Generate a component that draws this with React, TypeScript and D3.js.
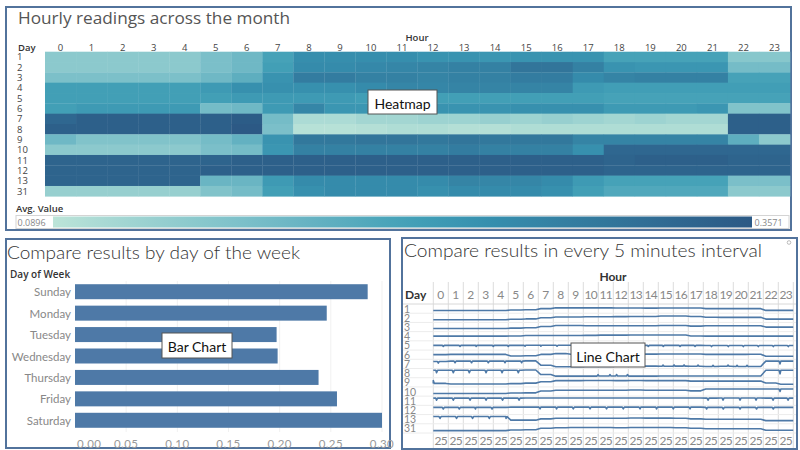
import React from 'react';
import * as d3 from 'd3';

// ---------- DATA ----------
const hours = [0, 1, 2, 3, 4, 5, 6, 7, 8, 9, 10, 11, 12, 13, 14, 15, 16, 17, 18, 19, 20, 21, 22, 23];
const days = ['1', '2', '3', '4', '5', '6', '7', '8', '9', '10', '11', '12', '13', '31'];

// Average value per day (rows) and hour (columns)
const hourlyAvg = [
  [0.143, 0.143, 0.143, 0.143, 0.143, 0.164, 0.178, 0.223, 0.258, 0.258, 0.258, 0.258, 0.250, 0.250, 0.245, 0.250, 0.250, 0.250, 0.223, 0.223, 0.223, 0.223, 0.148, 0.148],
  [0.143, 0.143, 0.143, 0.143, 0.143, 0.164, 0.178, 0.229, 0.263, 0.263, 0.269, 0.272, 0.277, 0.282, 0.282, 0.304, 0.304, 0.282, 0.250, 0.245, 0.245, 0.245, 0.170, 0.170],
  [0.162, 0.162, 0.162, 0.162, 0.162, 0.178, 0.197, 0.250, 0.290, 0.290, 0.282, 0.282, 0.277, 0.282, 0.282, 0.290, 0.290, 0.263, 0.277, 0.282, 0.282, 0.282, 0.223, 0.223],
  [0.229, 0.229, 0.229, 0.229, 0.229, 0.237, 0.255, 0.255, 0.255, 0.255, 0.263, 0.272, 0.272, 0.277, 0.277, 0.277, 0.277, 0.237, 0.231, 0.231, 0.231, 0.231, 0.231, 0.231],
  [0.229, 0.229, 0.229, 0.229, 0.229, 0.229, 0.237, 0.237, 0.237, 0.237, 0.231, 0.229, 0.229, 0.229, 0.229, 0.229, 0.229, 0.229, 0.223, 0.223, 0.223, 0.223, 0.223, 0.223],
  [0.229, 0.237, 0.237, 0.237, 0.237, 0.170, 0.178, 0.237, 0.272, 0.245, 0.245, 0.245, 0.250, 0.250, 0.250, 0.255, 0.255, 0.255, 0.237, 0.237, 0.237, 0.245, 0.156, 0.156],
  [0.330, 0.344, 0.344, 0.344, 0.344, 0.344, 0.352, 0.170, 0.106, 0.106, 0.116, 0.116, 0.122, 0.122, 0.130, 0.122, 0.130, 0.122, 0.116, 0.122, 0.116, 0.116, 0.344, 0.344],
  [0.344, 0.344, 0.344, 0.344, 0.344, 0.344, 0.357, 0.164, 0.095, 0.095, 0.098, 0.103, 0.103, 0.098, 0.098, 0.103, 0.103, 0.103, 0.103, 0.103, 0.103, 0.103, 0.344, 0.344],
  [0.178, 0.156, 0.156, 0.156, 0.156, 0.170, 0.191, 0.250, 0.298, 0.298, 0.304, 0.304, 0.298, 0.304, 0.298, 0.298, 0.298, 0.277, 0.277, 0.277, 0.277, 0.277, 0.197, 0.143],
  [0.143, 0.143, 0.143, 0.143, 0.143, 0.164, 0.170, 0.245, 0.282, 0.282, 0.282, 0.282, 0.282, 0.290, 0.282, 0.282, 0.282, 0.255, 0.330, 0.330, 0.330, 0.330, 0.330, 0.330],
  [0.336, 0.336, 0.336, 0.336, 0.336, 0.336, 0.344, 0.344, 0.344, 0.344, 0.344, 0.344, 0.344, 0.344, 0.344, 0.344, 0.344, 0.344, 0.336, 0.344, 0.344, 0.344, 0.336, 0.336],
  [0.336, 0.336, 0.336, 0.336, 0.336, 0.344, 0.344, 0.344, 0.344, 0.344, 0.344, 0.344, 0.344, 0.344, 0.344, 0.344, 0.344, 0.344, 0.336, 0.336, 0.336, 0.336, 0.336, 0.336],
  [0.336, 0.336, 0.336, 0.336, 0.336, 0.183, 0.183, 0.237, 0.263, 0.263, 0.263, 0.263, 0.263, 0.277, 0.272, 0.272, 0.263, 0.237, 0.223, 0.223, 0.223, 0.223, 0.164, 0.164],
  [0.130, 0.130, 0.130, 0.130, 0.130, 0.156, 0.170, 0.229, 0.255, 0.263, 0.263, 0.263, 0.255, 0.263, 0.263, 0.263, 0.255, 0.229, 0.210, 0.210, 0.210, 0.210, 0.143, 0.143],
];

const legendMin = 0.0896;
const legendMax = 0.3571;

const weekDays = ['Sunday', 'Monday', 'Tuesday', 'Wednesday', 'Thursday', 'Friday', 'Saturday'];
const weekValues = [0.286, 0.246, 0.197, 0.198, 0.238, 0.256, 0.300];
const barTicks = [0, 0.05, 0.1, 0.15, 0.2, 0.25, 0.3];

// Short spikes seen in the 5-minute line chart: day, change in value, minute-of-day
const spikeEvents = [
  { day: '5', delta: -0.045, minutes: [40, 107, 171, 240, 300, 367, 430, 495, 560, 625, 690, 755, 800, 860, 920, 987, 1047, 1113, 1180, 1240, 1300, 1360, 1420] },
  { day: '7', delta: -0.07, minutes: [20, 87, 153, 220, 287, 353] },
  { day: '7', delta: 0.05, minutes: [919, 963, 1003, 1059, 1119, 1179, 1215, 1255] },
  { day: '7', delta: -0.12, minutes: [1387] },
  { day: '8', delta: -0.1, minutes: [13, 80, 144, 211, 275, 340] },
  { day: '8', delta: 0.06, minutes: [659, 707, 733, 777] },
  { day: '8', delta: -0.15, minutes: [1387] },
  { day: '9', delta: 0.12, minutes: [0] },
  { day: '10', delta: -0.1, minutes: [1387] },
  { day: '11', delta: -0.09, minutes: [13, 80, 147, 211, 277, 343, 1099, 1159, 1227, 1291, 1359, 1419] },
  { day: '12', delta: -0.07, minutes: [40, 104, 169, 235, 427, 493, 560, 627, 693, 760, 827, 893, 960, 1027, 1093, 1160, 1227, 1293, 1360] },
  { day: '13', delta: -0.08, minutes: [27, 93, 157, 224, 291] },
];

const blueTeal = ['#bce4d8', '#aedcd5', '#a1d5d2', '#95cecf', '#89c8cc', '#7ec1ca', '#72bac6', '#66b2c2', '#59acbe', '#4ba5ba', '#419eb6', '#3b96b2', '#358ead', '#3586a7', '#347ea1', '#32779b', '#316f96', '#2f6790', '#2d608a', '#2c5985'];

// ---------- STYLE ----------
const BORDER = '#52739c';
const BAR = '#4e79a7';
const F_TAB = "'Open Sans', 'DejaVu Sans', sans-serif";
const F_LBL = "Lato, 'Open Sans', sans-serif";

function LabelBox({ x, y, w, h, text }: { x: number; y: number; w: number; h: number; text: string }) {
  return (
    <g>
      <rect x={x} y={y} width={w} height={h} fill="#fff" stroke="#555" strokeWidth={1} />
      <text x={x + w / 2} y={y + h / 2 + 1} textAnchor="middle" dominantBaseline="central" fontFamily={F_LBL} fontSize={14} fill="#111">{text}</text>
    </g>
  );
}

export default function App() {
  // ----- Heatmap -----
  const hx = d3.scaleBand<number>().domain(hours).range([45, 790]);
  const hy = d3.scaleBand<string>().domain(days).range([51.7, 196.3]);
  const color = d3.scaleSequential(d3.interpolateRgbBasis(blueTeal)).domain([legendMin, legendMax]);

  // ----- Bar chart -----
  const bx = d3.scaleLinear().domain([0, 0.3]).range([75, 382]);
  const by = d3.scaleBand<string>().domain(weekDays).range([281, 431]).paddingInner(0.3).paddingOuter(0.15);

  // ----- Line chart -----
  const lx = d3.scaleBand<number>().domain(hours).range([433.3, 793.3]);
  const ly = d3.scaleBand<string>().domain(days).range([304, 433]);
  const lv = d3.scaleLinear().domain([0.05, 0.4]).range([ly.bandwidth() - 0.5, 0.5]);
  const minuteX = (t: number) => {
    const tt = Math.max(0, Math.min(1439.9, t));
    const h = Math.floor(tt / 60);
    return (lx(h) as number) + ((tt - h * 60) / 60) * lx.bandwidth();
  };

  const linePaths = days.map((day, i) => {
    const vals = hourlyAvg[i];
    const base = (t: number) => vals[Math.max(0, Math.min(23, Math.floor(Math.max(0, Math.min(1439, t)) / 60)))];
    const pts: [number, number][] = [];
    hours.forEach((h) => {
      pts.push([h * 60 + 10, vals[h]]);
      pts.push([h * 60 + 50, vals[h]]);
    });
    spikeEvents.filter((e) => e.day === day).forEach((e) => {
      e.minutes.forEach((m) => {
        pts.push([Math.max(0, m - 4), base(m - 4)]);
        pts.push([m, base(m) + e.delta]);
        pts.push([Math.min(1439, m + 4), base(m + 4)]);
      });
    });
    pts.sort((a, b) => a[0] - b[0]);
    if (pts[0][0] > 0) pts.unshift([0, vals[0]]);
    pts.push([1439.9, vals[23]]);
    const y0 = ly(day) as number;
    const gen = d3.line<[number, number]>().x((p) => minuteX(p[0])).y((p) => y0 + lv(p[1]));
    return gen(pts) as string;
  });

  return (
    <svg width={800} height={450} style={{ position: 'absolute', left: 0, top: 0, background: '#fff' }}>
      <defs>
        <linearGradient id="legendGrad" x1="0" x2="1" y1="0" y2="0">
          {blueTeal.map((c, i) => (
            <stop key={i} offset={i / (blueTeal.length - 1)} stopColor={c} />
          ))}
        </linearGradient>
      </defs>

      {/* ================= HEATMAP PANEL ================= */}
      <rect x={6} y={7} width={785} height={223} fill="none" stroke={BORDER} strokeWidth={2} />
      <text x={18} y={23.5} fontFamily={F_TAB} fontSize={16} fill="#555" textLength={272} lengthAdjust="spacingAndGlyphs">Hourly readings across the month</text>
      <text x={417} y={37} textAnchor="middle" dominantBaseline="central" fontFamily={F_TAB} fontSize={9.5} fontWeight={600} fill="#333">Hour</text>
      <text x={18} y={47} dominantBaseline="central" fontFamily={F_TAB} fontSize={9.5} fontWeight={600} fill="#333">Day</text>
      {hours.map((h) => (
        <text key={h} x={(hx(h) as number) + hx.bandwidth() / 2} y={47} textAnchor="middle" dominantBaseline="central" fontFamily={F_TAB} fontSize={9.5} fill="#444">{h}</text>
      ))}
      {days.map((d) => (
        <text key={d} x={17} y={(hy(d) as number) + hy.bandwidth() / 2} dominantBaseline="central" fontFamily={F_TAB} fontSize={9.5} fill="#444">{d}</text>
      ))}
      {days.map((d, i) =>
        hours.map((h) => (
          <rect key={d + '-' + h} x={hx(h)} y={hy(d)} width={hx.bandwidth() + 0.3} height={hy.bandwidth() + 0.3} fill={color(hourlyAvg[i][h])} />
        ))
      )}
      <text x={16} y={208} dominantBaseline="central" fontFamily={F_TAB} fontSize={9.5} fontWeight={600} fill="#333">Avg. Value</text>
      <rect x={16} y={215.5} width={773} height={13} fill="#fff" stroke="#d4d4d4" strokeWidth={1} />
      <rect x={53} y={216.5} width={699} height={11} fill="url(#legendGrad)" />
      <text x={17.5} y={222.5} dominantBaseline="central" fontFamily={F_TAB} fontSize={9} fill="#888">{legendMin.toFixed(4)}</text>
      <text x={754.5} y={222.5} dominantBaseline="central" fontFamily={F_TAB} fontSize={9} fill="#888">{legendMax.toFixed(4)}</text>
      <LabelBox x={368} y={90} w={69} h={24} text="Heatmap" />

      {/* ================= BAR CHART PANEL ================= */}
      <rect x={6} y={239} width={384} height={209} fill="none" stroke={BORDER} strokeWidth={2} />
      <text x={7} y={258.5} fontFamily={F_LBL} fontSize={18.5} fontWeight={300} fill="#333" textLength={293} lengthAdjust="spacingAndGlyphs">Compare results by day of the week</text>
      <text x={10} y={274} dominantBaseline="central" fontFamily={F_TAB} fontSize={10} fontWeight={600} fill="#333">Day of Week</text>
      {barTicks.slice(1).map((t) => (
        <line key={t} x1={bx(t)} x2={bx(t)} y1={281} y2={432} stroke="#f1f1f1" strokeWidth={1} />
      ))}
      {weekDays.map((d, i) => (
        <g key={d}>
          <rect x={bx(0)} y={by(d)} width={bx(weekValues[i]) - bx(0)} height={by.bandwidth()} fill={BAR} />
          <text x={71} y={(by(d) as number) + by.bandwidth() / 2} textAnchor="end" dominantBaseline="central" fontFamily={F_LBL} fontSize={11.5} fill="#888">{d}</text>
        </g>
      ))}
      {barTicks.map((t, i) => (
        <text key={t} x={i === 0 ? bx(t) + 2 : bx(t)} y={443.5} textAnchor={i === 0 ? 'start' : 'middle'} dominantBaseline="central" fontFamily={F_LBL} fontSize={11.5} fill="#999" letterSpacing={0.4}>{t.toFixed(2)}</text>
      ))}
      <LabelBox x={162} y={333} w={70} h={25} text="Bar Chart" />

      {/* ================= LINE CHART PANEL ================= */}
      <rect x={402} y={238} width={395} height={211} fill="none" stroke={BORDER} strokeWidth={2} />
      <text x={404} y={257} fontFamily={F_LBL} fontSize={18.5} fontWeight={300} fill="#333" textLength={358} lengthAdjust="spacingAndGlyphs">Compare results in every 5 minutes interval</text>
      <circle cx={789} cy={242.5} r={1.8} fill="none" stroke="#aaa" strokeWidth={0.8} />
      <text x={613} y={276} textAnchor="middle" dominantBaseline="central" fontFamily={F_LBL} fontSize={12} fontWeight={700} fill="#333">Hour</text>
      <text x={405} y={294} dominantBaseline="central" fontFamily={F_LBL} fontSize={12} fontWeight={700} fill="#333">Day</text>
      {d3.range(hours.length + 1).map((k) => {
        const x = 433.3 + k * lx.step();
        return <line key={k} x1={x} x2={x} y1={282} y2={448} stroke="#dcdcdc" strokeWidth={1} />;
      })}
      {days.map((d) => (
        <line key={d} x1={403} x2={796} y1={(ly(d) as number) + ly.bandwidth()} y2={(ly(d) as number) + ly.bandwidth()} stroke="#ececec" strokeWidth={1} />
      ))}
      <line x1={403} x2={796} y1={304} y2={304} stroke="#d8d8d8" strokeWidth={1} />
      {hours.map((h) => (
        <text key={h} x={(lx(h) as number) + lx.bandwidth() / 2} y={294} textAnchor="middle" dominantBaseline="central" fontFamily={F_LBL} fontSize={12} fill="#888" letterSpacing={h >= 10 ? -0.6 : 0}>{h}</text>
      ))}
      {days.map((d) => (
        <text key={d} x={404} y={(ly(d) as number) + ly.bandwidth() / 2} dominantBaseline="central" fontFamily={F_LBL} fontSize={10.5} fill="#888">{d}</text>
      ))}
      {hours.map((h) => (
        <text key={h} x={(lx(h) as number) + lx.bandwidth() / 2} y={440.5} textAnchor="middle" dominantBaseline="central" fontFamily={F_LBL} fontSize={12} fill="#888" letterSpacing={-0.6}>25</text>
      ))}
      {linePaths.map((p, i) => (
        <path key={i} d={p} fill="none" stroke={BAR} strokeWidth={1.6} strokeLinejoin="round" />
      ))}
      <LabelBox x={571} y={343} w={74} h={24} text="Line Chart" />
    </svg>
  );
}
